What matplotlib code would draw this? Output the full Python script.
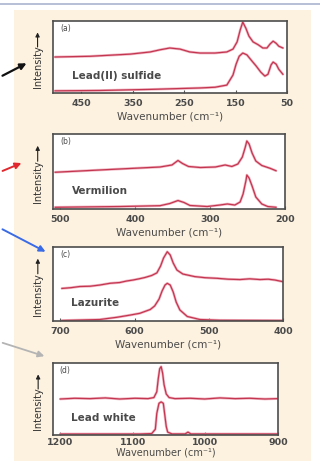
import matplotlib
matplotlib.use("Agg")
import matplotlib.pyplot as plt
from matplotlib.patches import Rectangle

# ---- data (x in cm^-1, y in relative intensity 0..1) ----
names = ["Lead(II) sulfide", "Vermilion", "Lazurite", "Lead white"]
tags = ["(a)", "(b)", "(c)", "(d)"]
xlims = [(505, 50), (510, 200), (710, 400), (1210, 900)]
xticks = [[450, 350, 250, 150, 50], [500, 400, 300, 200],
          [700, 600, 500, 400], [1200, 1100, 1000, 900]]

# (a) lead(II) sulfide
a_top_x = [501, 433, 355, 316, 297, 278, 258, 239, 219, 190, 167, 155, 147, 141,
           136, 130, 124, 116, 106, 97, 89, 83, 77, 71, 66, 58]
a_top_y = [0.50, 0.51, 0.54, 0.57, 0.60, 0.625, 0.61, 0.57, 0.555, 0.555, 0.57,
           0.61, 0.71, 0.875, 0.985, 0.90, 0.79, 0.71, 0.67, 0.625, 0.625, 0.68,
           0.72, 0.69, 0.65, 0.625]
a_bot_x = [501, 414, 316, 219, 190, 167, 155, 149, 143, 136, 128, 120, 110, 101,
           93, 87, 81, 77, 71, 66, 58]
a_bot_y = [0.03, 0.035, 0.05, 0.07, 0.08, 0.11, 0.25, 0.40, 0.51, 0.555, 0.53,
           0.46, 0.375, 0.29, 0.235, 0.26, 0.39, 0.43, 0.40, 0.33, 0.26]

# (b) vermilion
b_top_x = [507, 434, 367, 351, 343, 337, 329, 313, 293, 280, 271, 263, 257, 253,
           251, 248, 244, 239, 231, 220, 212]
b_top_y = [0.49, 0.527, 0.56, 0.587, 0.647, 0.607, 0.567, 0.553, 0.56, 0.587,
           0.567, 0.60, 0.693, 0.827, 0.907, 0.867, 0.747, 0.64, 0.58, 0.543, 0.51]
b_bot_x = [507, 420, 367, 354, 343, 335, 327, 304, 287, 277, 267, 260, 256, 252,
           251, 248, 244, 239, 231, 223, 212]
b_bot_y = [0.023, 0.033, 0.044, 0.073, 0.113, 0.087, 0.047, 0.033, 0.053, 0.067,
           0.053, 0.093, 0.20, 0.387, 0.453, 0.413, 0.307, 0.16, 0.067, 0.033, 0.023]

# (c) lazurite
c_top_x = [698, 686, 674, 660, 647, 633, 620, 611, 602, 594, 586, 577, 570, 565,
           561, 556, 552, 548, 543, 535, 519, 505, 489, 474, 458, 445, 431, 420,
           411, 400]
c_top_y = [0.44, 0.45, 0.466, 0.47, 0.486, 0.51, 0.52, 0.54, 0.554, 0.57, 0.588,
           0.615, 0.65, 0.743, 0.851, 0.936, 0.892, 0.784, 0.689, 0.635, 0.60,
           0.585, 0.577, 0.565, 0.56, 0.57, 0.56, 0.565, 0.554, 0.531]
c_bot_x = [698, 647, 624, 606, 593, 579, 573, 567, 563, 559, 556, 552, 548, 544,
           539, 529, 512, 485, 400]
c_bot_y = [0.007, 0.02, 0.05, 0.08, 0.104, 0.155, 0.203, 0.297, 0.405, 0.486,
           0.509, 0.486, 0.392, 0.257, 0.149, 0.061, 0.02, 0.01, 0.007]

# (d) lead white
d_top_x = [1200, 1180, 1159, 1138, 1118, 1097, 1079, 1071, 1067, 1065, 1063, 1061,
           1059, 1057, 1054, 1050, 1042, 1021, 1001, 980, 959, 939, 918, 901]
d_top_y = [0.50, 0.51, 0.505, 0.515, 0.50, 0.51, 0.505, 0.52, 0.60, 0.78, 0.92,
           0.95, 0.86, 0.70, 0.57, 0.52, 0.505, 0.51, 0.50, 0.515, 0.505, 0.51,
           0.50, 0.505]
d_bot_x = [1200, 1090, 1074, 1069, 1067, 1064, 1061, 1058, 1056, 1054, 1052, 1046,
           1028, 1024, 1020, 901]
d_bot_y = [0.014, 0.014, 0.02, 0.08, 0.30, 0.44, 0.46, 0.44, 0.28, 0.12, 0.04,
           0.015, 0.015, 0.04, 0.015, 0.014]

curves = [(a_top_x, a_top_y, a_bot_x, a_bot_y),
          (b_top_x, b_top_y, b_bot_x, b_bot_y),
          (c_top_x, c_top_y, c_bot_x, c_bot_y),
          (d_top_x, d_top_y, d_bot_x, d_bot_y)]

W, H = 320, 461
# panel boxes in pixels: left, top, right, bottom
boxes = [(53, 21, 287, 93), (53, 134, 285, 209), (53, 247, 283, 321), (53, 363, 278, 435)]

fig = plt.figure(figsize=(W / 100, H / 100), dpi=100)

# background layer in pixel coordinates
bg = fig.add_axes([0, 0, 1, 1], zorder=-1)
bg.set_xlim(0, W)
bg.set_ylim(H, 0)
bg.set_axis_off()
bg.add_patch(Rectangle((14, 10), 297, 460, fc="#FDF2E0", ec="none"))
bg.plot([0, W], [4, 4], color="#A9B4CF", lw=1.2)
arrows = [((0, 77), (29, 62), "#111111", 1.6),
          ((0, 172), (24, 162), "#E0282E", 1.4),
          ((0, 228), (48, 253), "#3A6BE6", 1.4),
          ((0, 342), (47, 357), "#B4B4B4", 1.3)]
for start, end, col, lw in arrows:
    bg.annotate("", xy=end, xytext=start,
                arrowprops=dict(arrowstyle="-|>", color=col, lw=lw, mutation_scale=9))

line_col = "#C43550"
txt_col = "#4a4a4a"

for i, (l, t, r, b) in enumerate(boxes):
    last = i == len(boxes) - 1
    ax = fig.add_axes([l / W, 1 - b / H, (r - l) / W, (b - t) / H])
    tx, ty, bx, by = curves[i]
    ax.plot(tx, ty, color="#F0B6C2", lw=1.9, solid_capstyle="round")
    ax.plot(bx, by, color="#F0B6C2", lw=1.9, solid_capstyle="round")
    ax.plot(tx, ty, color=line_col, lw=0.9)
    ax.plot(bx, by, color=line_col, lw=0.9)
    ax.set_xlim(*xlims[i])
    ax.set_ylim(0, 1)
    ax.set_xticks(xticks[i])
    ax.set_yticks([])
    ax.tick_params(axis="x", direction="in", length=2.5, width=0.8, color="#555555",
                   pad=2.5 if last else 4, labelsize=6.8, labelcolor=txt_col)
    for lab in ax.get_xticklabels():
        lab.set_fontweight("bold")
    for sp in ax.spines.values():
        sp.set_color("#4d4d4d")
        sp.set_linewidth(1.2)
    ax.set_xlabel("Wavenumber (cm\u207b\u00b9)", fontsize=7 if last else 7.5,
                  color=txt_col, labelpad=0 if last else 2.5)
    ax.text(0.03, 0.9, tags[i], transform=ax.transAxes, fontsize=5.5,
            color=txt_col, ha="left", va="center")
    ax.text(0.08, 0.24, names[i], transform=ax.transAxes, fontsize=7.5,
            color=txt_col, ha="left", va="center", fontweight="bold")
    ax.text(-0.066, 0.36, "Intensity", transform=ax.transAxes, rotation=90,
            fontsize=7, color="#333333", ha="center", va="center",
            family=["Liberation Sans Narrow", "DejaVu Sans"])
    ax.annotate("", xy=(-0.066, 0.88), xytext=(-0.066, 0.6), xycoords="axes fraction",
                arrowprops=dict(arrowstyle="-|>", color="#222222", lw=0.8,
                                mutation_scale=6))

fig.savefig("out.png", dpi=100)
